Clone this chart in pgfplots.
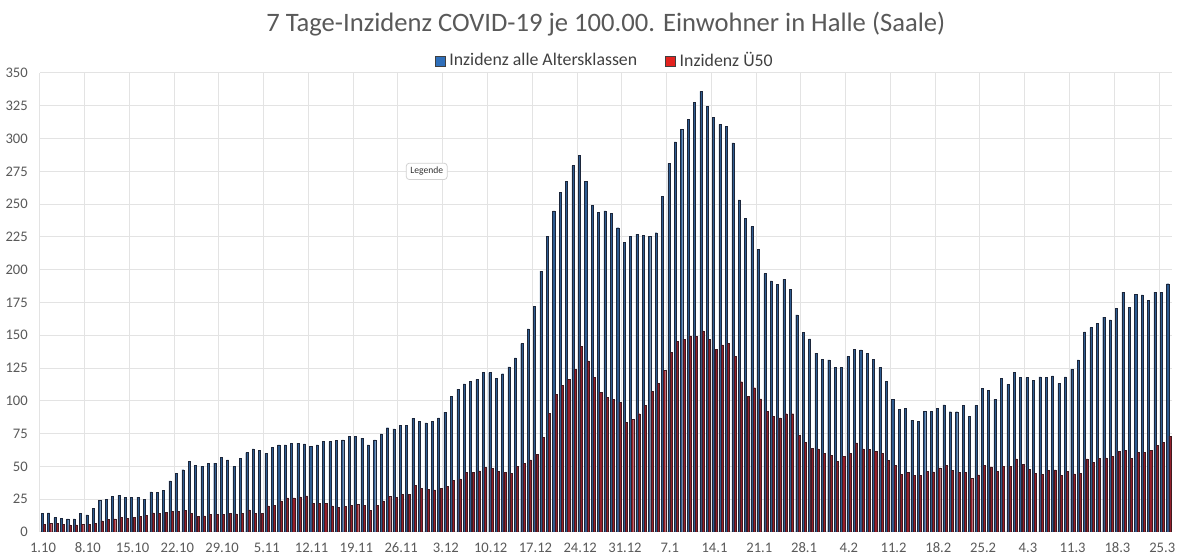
\documentclass[border=0pt]{standalone}
\usepackage{pgfplots}
\usepackage{pgfplotstable}
\pgfplotsset{compat=1.18}
\usepackage{fontspec}
\setmainfont{Carlito}
\definecolor{txtgray}{HTML}{595959}
\definecolor{gridgray}{HTML}{E3E3E3}
\definecolor{bluefill}{RGB}{46,92,145}
\definecolor{blueedge}{RGB}{28,38,58}
\definecolor{redfill}{RGB}{150,32,44}
\definecolor{rededge}{RGB}{62,26,32}
\definecolor{legblue}{HTML}{2F6FBA}
\definecolor{legred}{HTML}{E3231F}

\pgfplotstableread[row sep=\\]{
i b r \\
0 14 6 \\ 1 14.5 6.5 \\ 2 11 6.5 \\ 3 10.5 6 \\ 4 10 5.5 \\ 5 10 5.5 \\ 6 14 6 \\
7 13 6 \\ 8 18 6.5 \\ 9 24 8.5 \\ 10 25 9.5 \\ 11 27 10 \\ 12 28 11 \\ 13 26.5 10.5 \\
14 26.5 11 \\ 15 26.5 12 \\ 16 25 12.5 \\ 17 30.5 14.5 \\ 18 30 14 \\ 19 32 15 \\ 20 39 16 \\
21 44.5 16 \\ 22 47.5 16.5 \\ 23 54 14 \\ 24 51 12 \\ 25 50 12.2 \\ 26 52.5 13.2 \\ 27 52.5 13.5 \\
28 57 13.5 \\ 29 55 14 \\ 30 50 13.8 \\ 31 56 14.3 \\ 32 60.6 16.8 \\ 33 63.4 14.3 \\ 34 62 14.3 \\
35 60 19.9 \\ 36 64.7 20.4 \\ 37 66.5 23.7 \\ 38 66.5 26 \\ 39 67.8 26 \\ 40 67.8 26.7 \\ 41 67.2 27.5 \\
42 65.2 21.7 \\ 43 66.5 21.7 \\ 44 69 21.7 \\ 45 69 19.9 \\ 46 69.8 18.8 \\ 47 70.3 19.4 \\ 48 73 20.4 \\
49 72.8 20.9 \\ 50 71.6 20.4 \\ 51 66.5 16.6 \\ 52 70.3 20.4 \\ 53 74.8 23.7 \\ 54 79.5 27 \\ 55 78.7 26.5 \\
56 81.5 28.5 \\ 57 81.5 28.8 \\ 58 86.6 35.7 \\ 59 84.6 33.1 \\ 60 83.3 32.3 \\ 61 84.6 32.1 \\ 62 87.1 33.1 \\
63 91.4 34.6 \\ 64 103.2 39.5 \\ 65 109 40.5 \\ 66 113 45.3 \\ 67 114.9 45.6 \\ 68 116.4 46.6 \\ 69 122 49.2 \\
70 121.5 48.4 \\ 71 116.9 46.4 \\ 72 120.7 45.6 \\ 73 126 44.6 \\ 74 132.7 49.9 \\ 75 143.7 52.2 \\ 76 154.9 55 \\
77 171.9 59.3 \\ 78 199 72.3 \\ 79 225.7 90.4 \\ 80 244.8 104.9 \\ 81 259 111.8 \\ 82 267.2 116.4 \\ 83 279.4 124 \\
84 287 141.4 \\ 85 267.2 130.4 \\ 86 248.9 117.7 \\ 87 243.8 106.7 \\ 88 244.8 102.9 \\ 89 243 101.1 \\ 90 232 99.1 \\
91 220.8 83.8 \\ 92 225.7 85.8 \\ 93 227.2 90.2 \\ 94 226.4 96.5 \\ 95 225.7 107 \\ 96 228.2 113.3 \\ 97 256 123.3 \\
98 281 136.8 \\ 99 297.5 145.2 \\ 100 306.9 147 \\ 101 314.6 149.5 \\ 102 327.6 149 \\ 103 336 153.3 \\ 104 324.8 147 \\
105 316.3 139.3 \\ 106 310.8 142.6 \\ 107 309.5 143.7 \\ 108 296.7 134.2 \\ 109 253.2 114.6 \\ 110 239.2 103.7 \\ 111 232.8 110 \\
112 215.5 101.6 \\ 113 197 92.2 \\ 114 191.5 88 \\ 115 188.7 87.1 \\ 116 192.6 90.2 \\ 117 185.2 90.2 \\ 118 165.6 73.6 \\
119 152.3 68.5 \\ 120 147.2 63.7 \\ 121 136.3 63.4 \\ 122 131.7 60.1 \\ 123 131.2 58.3 \\ 124 125.3 53.7 \\ 125 125.3 57.8 \\
126 134 60.1 \\ 127 139.3 68 \\ 128 138.8 63.4 \\ 129 136.3 62.9 \\ 130 131.9 61.4 \\ 131 125.3 59.9 \\ 132 115.1 54.5 \\
133 101.1 50.7 \\ 134 93.5 43.8 \\ 135 94.5 45.6 \\ 136 85.3 43 \\ 137 84.6 43 \\ 138 91.9 46.1 \\ 139 92.2 45.8 \\
140 94.5 48.9 \\ 141 97 50.7 \\ 142 91.7 46.9 \\ 143 91.7 45.6 \\ 144 96.5 45.6 \\ 145 88.4 40.8 \\ 146 96.5 43.6 \\
147 109.3 50.7 \\ 148 108 49.7 \\ 149 101.1 46.1 \\ 150 116.9 50.2 \\ 151 112.6 49.9 \\ 152 121.5 55.8 \\ 153 117.7 51.5 \\
154 117.7 47.6 \\ 155 115.6 44.8 \\ 156 118.2 43.8 \\ 157 117.7 46.9 \\ 158 119 47.4 \\ 159 113.3 43 \\ 160 118.2 46.1 \\
161 124 44.3 \\ 162 131.2 44.6 \\ 163 152.6 55.8 \\ 164 155.9 53.2 \\ 165 159.2 56 \\ 166 163.8 56.5 \\ 167 161.7 57.8 \\
168 170.4 61.4 \\ 169 182.9 62.1 \\ 170 171.2 56 \\ 171 181.1 60.9 \\ 172 180.8 60.9 \\ 173 176.8 62.4 \\ 174 182.9 66 \\
175 182.9 68.5 \\ 176 189.3 73.1 \\
}\datatable

\begin{document}
\begin{tikzpicture}
\path[use as bounding box] (-21.5pt,-11.5pt) rectangle (571.5pt,266pt);
\begin{axis}[
  at={(0,0)}, anchor=origin,
  scale only axis,
  width=566pt, height=229.5pt,
  xmin=-0.5, xmax=176.5,
  ymin=0, ymax=350,
  ytick={0,25,...,350},
  xtick={0,7,...,175},
  xticklabels={1.10,8.10,15.10,22.10,29.10,5.11,12.11,19.11,26.11,3.12,10.12,17.12,24.12,31.12,7.1,14.1,21.1,28.1,4.2,11.2,18.2,25.2,4.3,11.3,18.3,25.3},
  minor xtick={-0.5,6.5,...,174.5},
  xminorgrids, ymajorgrids,
  grid style={gridgray, line width=0.5pt},
  minor grid style={gridgray, line width=0.5pt},
  major tick length=0pt, minor tick length=0pt,
  axis line style={draw=none},
  tick label style={font=\fontsize{7.3}{8}\selectfont, text=txtgray},
  /pgf/number format/assume math mode=true,
  yticklabel style={xshift=-2.5pt},
  xticklabel style={anchor=north, text height=5.2pt, text depth=0pt, yshift=-1.5pt},
  title={7 Tage-Inzidenz COVID-19 je 100.00. Einwohner in Halle (Saale)},
  title style={font=\fontsize{13.3}{15}\selectfont, text=txtgray, at={(0.5,1)}, anchor=center, yshift=18.5pt},
  legend style={at={(0.5,1)}, anchor=center, yshift=6pt, draw=none, fill=none,
    font=\fontsize{8.9}{10}\selectfont, text=black!75, legend columns=2,
    /tikz/every even column/.append style={column sep=12pt},
    /tikz/every odd column/.append style={column sep=0pt}},
  ybar, bar width=1.05pt,
]
\addplot[forget plot, fill=bluefill, draw=blueedge, line width=0.2pt, bar shift=-0.45pt] table[x=i, y=b] {\datatable};
\addplot[forget plot, fill=redfill, draw=rededge, line width=0.2pt, bar shift=0.65pt] table[x=i, y=r] {\datatable};
\addlegendimage{legend image code/.code={\draw[fill=legblue, draw=gray!50!black, line width=0.25pt] (0pt,-2.5pt) rectangle (5pt,2.5pt);}}
\addlegendimage{legend image code/.code={\draw[fill=legred, draw=gray!50!black, line width=0.25pt] (0pt,-2.5pt) rectangle (5pt,2.5pt);}}
\legend{Inzidenz alle Altersklassen, Inzidenz Ü50}
\node[draw=gray!35, fill=white, rounded corners=1.5pt, inner sep=2pt, font=\fontsize{4.8}{5}\selectfont, text=black!80] at (axis cs:60,275) {Legende};
\end{axis}
\end{tikzpicture}
\end{document}
